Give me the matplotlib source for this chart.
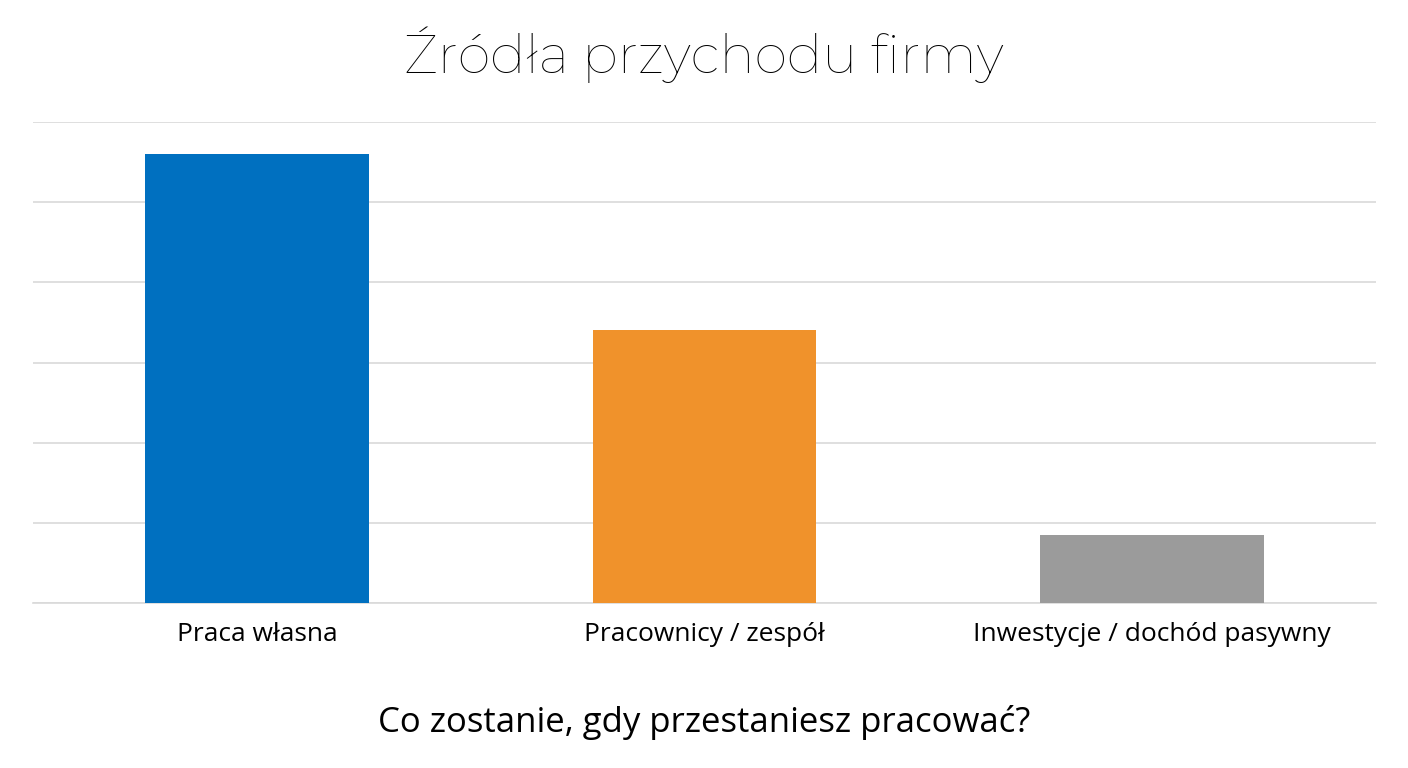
import matplotlib.pyplot as plt

categories = ["Praca własna", "Pracownicy / zespół", "Inwestycje / dochód pasywny"]
values = [5.6, 3.4, 0.85]
colors = ["#0070C0", "#F0922B", "#9B9B9B"]

plt.rcParams['font.family'] = ['Open Sans', 'DejaVu Sans']

fig = plt.figure(figsize=(14.08, 7.68), dpi=100)
ax = fig.add_axes([33/1408, 1-603/768, (1376-33)/1408, (603-122)/768])
ax.bar(range(len(categories)), values, width=0.5, color=colors, zorder=3)
ax.set_xlim(-0.5, 2.5)
ax.set_ylim(0, 6)
ax.set_yticks(range(0, 7))
ax.yaxis.grid(True, color="#D9D9D9", linewidth=1.2, zorder=0)
ax.tick_params(axis='y', left=False, labelleft=False)
ax.tick_params(axis='x', length=0, labelsize=19, pad=14)
ax.set_xticks(range(len(categories)))
ax.set_xticklabels(categories)
for s in ["top", "right", "left"]:
    ax.spines[s].set_visible(False)
ax.spines["bottom"].set_color("#D9D9D9")
ax.spines["bottom"].set_linewidth(1.2)

fig.text(0.5, 1-55/768, "Źródła przychodu firmy", ha="center", va="center", fontsize=38,
         family=['Montserrat', 'Open Sans', 'DejaVu Sans'])
fig.text(0.5, 1-722/768, "Co zostanie, gdy przestaniesz pracować?", ha="center", va="center", fontsize=25)

fig.savefig("out.png", dpi=100)
